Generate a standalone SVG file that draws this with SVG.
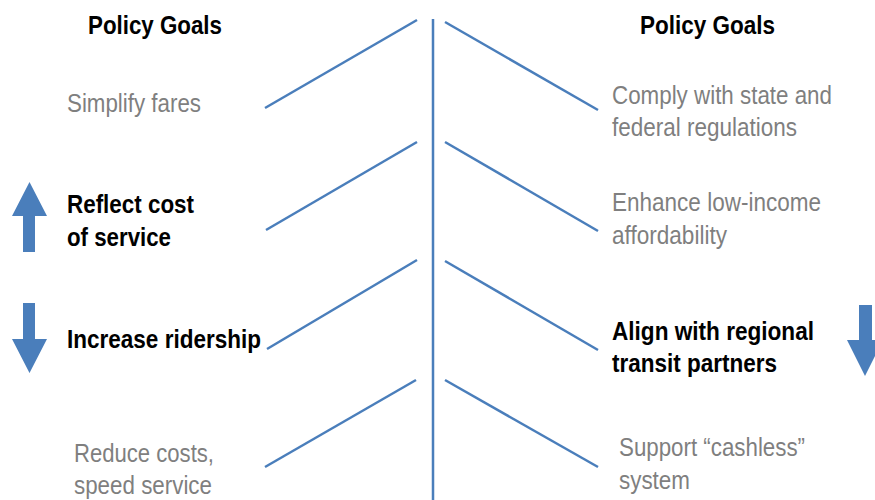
<svg xmlns="http://www.w3.org/2000/svg" width="875" height="500" viewBox="0 0 875 500">
<style>
.t{font-family:"Liberation Sans",Arial,sans-serif;font-size:26.5px}
.g{fill:#7f7f7f}
.b{fill:#000;font-weight:bold}
.h{fill:#000;font-weight:bold}
.ln{stroke:#4a7ebb;stroke-width:2.5;fill:none}
.ar{fill:#4a7ebb}
</style>
<rect width="875" height="500" fill="#fff"/>
<g id="connectors">
<line class="ln" x1="433" y1="19" x2="433" y2="500"/>
<line class="ln" x1="265" y1="108" x2="417" y2="20"/>
<line class="ln" x1="266" y1="230" x2="417" y2="142"/>
<line class="ln" x1="267" y1="349" x2="417" y2="260"/>
<line class="ln" x1="265" y1="467" x2="416" y2="380"/>
<line class="ln" x1="445" y1="22" x2="598" y2="110"/>
<line class="ln" x1="445" y1="142" x2="598" y2="231"/>
<line class="ln" x1="445" y1="261" x2="598" y2="350"/>
<line class="ln" x1="445" y1="380" x2="598" y2="467"/>
</g>
<g id="header-left"><text class="t h" x="88" y="34" textLength="134" lengthAdjust="spacingAndGlyphs">Policy Goals</text></g>
<g id="header-right"><text class="t h" x="640" y="34" textLength="135" lengthAdjust="spacingAndGlyphs">Policy Goals</text></g>
<g id="simplify"><text class="t g" x="67" y="112" textLength="134" lengthAdjust="spacingAndGlyphs">Simplify fares</text></g>
<g id="reflect">
<text class="t b" x="67" y="213" textLength="127" lengthAdjust="spacingAndGlyphs">Reflect cost</text>
<text class="t b" x="67" y="246" textLength="104" lengthAdjust="spacingAndGlyphs">of service</text>
</g>
<g id="ridership"><text class="t b" x="67" y="348" textLength="194" lengthAdjust="spacingAndGlyphs">Increase ridership</text></g>
<g id="reduce">
<text class="t g" x="74" y="462" textLength="140" lengthAdjust="spacingAndGlyphs">Reduce costs,</text>
<text class="t g" x="74" y="494" textLength="138" lengthAdjust="spacingAndGlyphs">speed service</text>
</g>
<g id="comply">
<text class="t g" x="612" y="104" textLength="220" lengthAdjust="spacingAndGlyphs">Comply with state and</text>
<text class="t g" x="612" y="136" textLength="185" lengthAdjust="spacingAndGlyphs">federal regulations</text>
</g>
<g id="enhance">
<text class="t g" x="612" y="211" textLength="209" lengthAdjust="spacingAndGlyphs">Enhance low-income</text>
<text class="t g" x="612" y="244" textLength="115" lengthAdjust="spacingAndGlyphs">affordability</text>
</g>
<g id="align">
<text class="t b" x="612" y="340" textLength="202" lengthAdjust="spacingAndGlyphs">Align with regional</text>
<text class="t b" x="612" y="372" textLength="165" lengthAdjust="spacingAndGlyphs">transit partners</text>
</g>
<g id="cashless">
<text class="t g" x="619" y="456" textLength="186" lengthAdjust="spacingAndGlyphs">Support “cashless”</text>
<text class="t g" x="619" y="489" textLength="71" lengthAdjust="spacingAndGlyphs">system</text>
</g>
<g id="arrow-up"><polygon class="ar" points="29.5,182 47,216 35,216 35,252 23,252 23,216 12,216"/></g>
<g id="arrow-down-left"><polygon class="ar" points="23,303 35,303 35,339 47,339 29.5,373 12,339 23,339"/></g>
<g id="arrow-down-right"><polygon class="ar" points="859,305 872,305 872,340 883,340 865,376 847,340 859,340"/></g>
</svg>
